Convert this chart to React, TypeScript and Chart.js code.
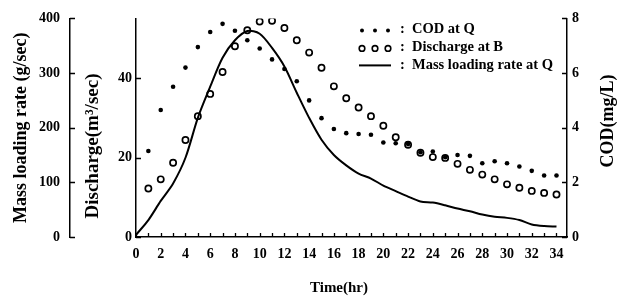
import React, { useEffect, useRef } from 'react';
import { Chart, registerables } from 'chart.js';

Chart.register(...registerables);

const hours = [0, 1, 2, 3, 4, 5, 6, 7, 8, 9, 10, 11, 12, 13, 14, 15, 16, 17, 18, 19, 20, 21, 22, 23, 24, 25, 26, 27, 28, 29, 30, 31, 32, 33, 34];
const codValues = [null, 3.15, 4.65, 5.5, 6.2, 6.95, 7.5, 7.8, 7.55, 7.2, 6.9, 6.5, 6.15, 5.7, 5.0, 4.35, 3.95, 3.8, 3.77, 3.74, 3.46, 3.43, 3.4, 3.1, 3.13, 2.92, 3.0, 2.97, 2.7, 2.77, 2.7, 2.58, 2.42, 2.25, 2.25];
const dischargeValues = [null, 12.2, 14.5, 18.7, 24.4, 30.4, 36, 41.5, 48, 52, 54.2, 54.4, 52.6, 49.5, 46.4, 42.6, 37.9, 34.9, 32.6, 30.4, 28, 25.1, 23.2, 21.2, 20.1, 19.9, 18.4, 16.9, 15.7, 14.5, 13.25, 12.4, 11.6, 11.1, 10.7];
const massValues = [4, 31, 66, 98, 145, 218, 275, 328, 360, 377, 372, 346, 312, 264, 218, 178, 150, 131, 116, 107, 94, 84, 74, 65, 63, 58, 52, 47, 41, 37, 35, 31, 23, 20, 19];

const hourTicks = hours;
const massTicks = [0, 100, 200, 300, 400];
const dischargeTicks = [0, 20, 40];
const codTicks = [0, 2, 4, 6, 8];
const seriesLabels = ['COD at Q', 'Discharge at B', 'Mass loading rate at Q'];
const axisTitles = { x: 'Time(hr)', mass: 'Mass loading rate (g/sec)', discharge: 'Discharge(m³/sec)', cod: 'COD(mg/L)' };

const FONT = '"Liberation Serif", "Times New Roman", serif';

const decorPlugin = {
  id: 'decor',
  afterDraw(chart: any) {
    const ctx: CanvasRenderingContext2D = chart.ctx;
    const { x, yM, yQ, yC } = chart.scales;
    const area = chart.chartArea;
    ctx.save();
    ctx.strokeStyle = '#000';
    ctx.lineWidth = 1.3;
    ctx.beginPath();
    x.ticks.forEach((t: any) => {
      const px = Math.round(x.getPixelForValue(t.value)) + 0.5;
      ctx.moveTo(px, x.top);
      ctx.lineTo(px, x.top - 4);
    });
    yM.ticks.forEach((t: any) => {
      const py = Math.round(yM.getPixelForValue(t.value)) + 0.5;
      ctx.moveTo(yM.right, py);
      ctx.lineTo(yM.right + 5, py);
    });
    yQ.ticks.forEach((t: any) => {
      const py = Math.round(yQ.getPixelForValue(t.value)) + 0.5;
      ctx.moveTo(yQ.right, py);
      ctx.lineTo(yQ.right + 5, py);
    });
    yC.ticks.forEach((t: any) => {
      const py = Math.round(yC.getPixelForValue(t.value)) + 0.5;
      ctx.moveTo(yC.left, py);
      ctx.lineTo(yC.left - 5, py);
    });
    ctx.stroke();

    ctx.fillStyle = '#000';
    ctx.textAlign = 'center';
    ctx.textBaseline = 'middle';

    // x title
    ctx.font = `bold 15px ${FONT}`;
    ctx.fillText(axisTitles.x, 339, x.bottom - 10);

    // discharge title
    ctx.save();
    ctx.font = `bold 19px ${FONT}`;
    ctx.translate(yQ.left + 23, 146);
    ctx.rotate(-Math.PI / 2);
    ctx.fillText(axisTitles.discharge, 0, 0);
    ctx.restore();

    // COD title
    ctx.save();
    ctx.font = `bold 18px ${FONT}`;
    ctx.translate(yC.right - 11, 121);
    ctx.rotate(-Math.PI / 2);
    ctx.fillText(axisTitles.cod, 0, 0);
    ctx.restore();

    // legend
    const symX = [362, 375, 388];
    const rows = [area.top + 11, area.top + 29, area.top + 47];
    ctx.font = `bold 14.5px ${FONT}`;
    ctx.textAlign = 'left';
    symX.forEach((sx) => {
      ctx.beginPath();
      ctx.arc(sx, rows[0] + 1, 2, 0, Math.PI * 2);
      ctx.fill();
    });
    ctx.lineWidth = 1.6;
    symX.forEach((sx) => {
      ctx.beginPath();
      ctx.arc(sx, rows[1] + 1, 2.8, 0, Math.PI * 2);
      ctx.stroke();
    });
    ctx.lineWidth = 2;
    ctx.beginPath();
    ctx.moveTo(359, rows[2]);
    ctx.lineTo(391, rows[2]);
    ctx.stroke();
    seriesLabels.forEach((lab, i) => {
      ctx.fillText(':', 400, rows[i]);
      ctx.fillText(lab, 412, rows[i]);
    });
    ctx.restore();
  },
};

export default function App() {
  const ref = useRef<HTMLCanvasElement>(null);
  useEffect(() => {
    const canvas = ref.current!;
    const toXY = (vals: (number | null)[]) =>
      hours.map((h, i) => ({ x: h, y: vals[i] })).filter((p) => p.y !== null);
    const tickFont = { family: FONT, size: 14, weight: 'bold' as const };
    const setTicks = (arr: number[]) => (s: any) => {
      s.ticks = arr.map((v) => ({ value: v }));
    };
    const chart = new Chart(canvas, {
      type: 'line',
      data: {
        datasets: [
          {
            label: seriesLabels[0],
            data: toXY(codValues) as any,
            yAxisID: 'yC',
            showLine: false,
            pointRadius: 2.3,
            pointBorderWidth: 0,
            pointBackgroundColor: '#000',
            borderColor: '#000',
          },
          {
            label: seriesLabels[1],
            data: toXY(dischargeValues) as any,
            yAxisID: 'yQ',
            showLine: false,
            pointRadius: 3.1,
            pointBorderWidth: 1.7,
            pointBorderColor: '#000',
            pointBackgroundColor: 'rgba(0,0,0,0)',
            borderColor: '#000',
          },
          {
            label: seriesLabels[2],
            data: toXY(massValues) as any,
            yAxisID: 'yM',
            borderColor: '#000',
            borderWidth: 2,
            pointRadius: 0,
            tension: 0.3,
            fill: false,
          },
        ],
      },
      options: {
        animation: false,
        responsive: false,
        devicePixelRatio: 1,
        layout: { padding: { top: 17, left: 0, right: 0, bottom: 0 } },
        plugins: { legend: { display: false }, tooltip: { enabled: false } },
        scales: {
          x: {
            type: 'linear',
            min: 0,
            max: 34.85,
            afterBuildTicks: setTicks(hourTicks),
            afterFit: (s: any) => { s.height = 61; },
            grid: { display: false, drawTicks: false },
            border: { display: true, color: '#000', width: 1.5 },
            ticks: {
              autoSkip: false,
              maxRotation: 0,
              padding: 9,
              color: '#000',
              font: tickFont,
              callback: (v: any) => (Number(v) % 2 === 0 ? String(v) : ''),
            },
          },
          yM: {
            type: 'linear',
            position: 'left',
            weight: 1,
            min: 0,
            max: 400,
            afterBuildTicks: setTicks(massTicks),
            afterFit: (s: any) => { s.width = 70; },
            grid: { display: false, drawTicks: false },
            border: { display: true, color: '#000', width: 1.5 },
            title: {
              display: true,
              text: axisTitles.mass,
              color: '#000',
              font: { family: FONT, size: 18, weight: 'bold' },
              padding: { top: 11, bottom: 0 },
            },
            ticks: { padding: 10, color: '#000', font: tickFont },
          },
          yQ: {
            type: 'linear',
            position: 'left',
            weight: 0,
            min: 0,
            max: 55,
            afterBuildTicks: setTicks(dischargeTicks),
            afterFit: (s: any) => { s.width = 66; },
            grid: { display: false, drawTicks: false },
            border: { display: true, color: '#000', width: 1.5 },
            ticks: { padding: 4, color: '#000', font: tickFont },
          },
          yC: {
            type: 'linear',
            position: 'right',
            min: 0,
            max: 8,
            afterBuildTicks: setTicks(codTicks),
            afterFit: (s: any) => { s.width = 52; },
            grid: { display: false, drawTicks: false },
            border: { display: true, color: '#000', width: 1.5 },
            ticks: { padding: 5, color: '#000', font: tickFont },
          },
        },
      },
      plugins: [decorPlugin],
    });
    return () => chart.destroy();
  }, []);
  return (
    <div style={{ position: 'absolute', left: 0, top: 0, width: 619, height: 298, background: '#fff' }}>
      <canvas ref={ref} width={619} height={298} />
    </div>
  );
}
